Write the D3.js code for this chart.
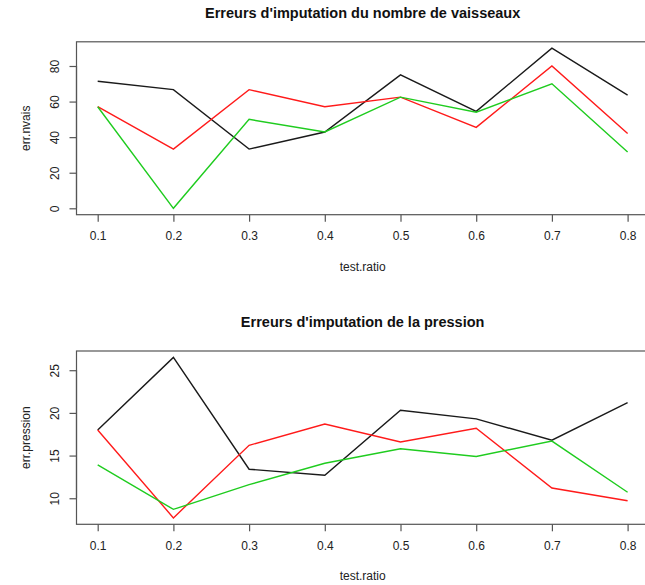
<!DOCTYPE html>
<html>
<head>
<meta charset="utf-8">
<script src="https://cdn.jsdelivr.net/npm/d3@7/dist/d3.min.js"></script>
<style>
  body { margin: 0; background: #fff; }
  svg text { font-family: "Liberation Sans", Arial, sans-serif; fill: #222; }
</style>
</head>
<body>
<div id="chart"></div>
<script>
var ratios = [0.1, 0.2, 0.3, 0.4, 0.5, 0.6, 0.7, 0.8];

// erreurs nombre de vaisseaux
var nvaisBlack = [71.4, 66.7, 33.3, 42.9, 75.0, 54.5, 90.0, 63.6];
var nvaisRed   = [57.1, 33.3, 66.7, 57.1, 62.5, 45.5, 80.0, 42.1];
var nvaisGreen = [57.1, 0.0, 50.0, 42.9, 62.5, 54.0, 70.0, 31.6];

// erreurs pression
var presBlack = [18.0, 26.5, 13.4, 12.7, 20.3, 19.3, 16.8, 21.2];
var presRed   = [18.0, 7.7, 16.2, 18.7, 16.6, 18.2, 11.2, 9.7];
var presGreen = [13.9, 8.7, 11.6, 14.1, 15.8, 14.9, 16.7, 10.7];

var xTicks = [0.1, 0.2, 0.3, 0.4, 0.5, 0.6, 0.7, 0.8];
var nvaisTicks = [0, 20, 40, 60, 80];
var presTicks = [10, 15, 20, 25];

var colors = ["#1a1a1a", "#ff1a1a", "#1fcc1f"];

var width = 645, height = 585;
var left = 76.5, right = 648.8;

var svg = d3.select("#chart").append("svg")
	.attr("width", width)
	.attr("height", height);

// R style: extend range by 4% each side
function rRange(ext) {
	var d = (ext[1] - ext[0]) * 0.04;
	return [ext[0] - d, ext[1] + d];
}

var x = d3.scaleLinear()
	.domain(rRange(d3.extent(ratios)))
	.range([left, right]);

function drawPanel(cfg) {
	var all = d3.merge(cfg.series);
	var y = d3.scaleLinear()
		.domain(rRange(d3.extent(all)))
		.range([cfg.bottom, cfg.top]);

	var g = svg.append("g");

	// title
	g.append("text")
		.attr("x", (left + right) / 2)
		.attr("y", cfg.titleY)
		.attr("text-anchor", "middle")
		.style("font-size", "14.5px")
		.style("font-weight", "bold")
		.style("fill", "#111")
		.text(cfg.title);

	// lines
	var line = d3.line()
		.x(function(d, i) { return x(ratios[i]); })
		.y(function(d) { return y(d); });

	cfg.series.forEach(function(s, i) {
		g.append("path")
			.datum(s)
			.attr("d", line)
			.attr("fill", "none")
			.attr("stroke", colors[i])
			.attr("stroke-width", 1.4)
			.attr("stroke-linejoin", "miter");
	});

	// box
	g.append("rect")
		.attr("x", left)
		.attr("y", cfg.top)
		.attr("width", right - left)
		.attr("height", cfg.bottom - cfg.top)
		.attr("fill", "none")
		.attr("stroke", "#555")
		.attr("stroke-width", 1.2);

	// x axis
	var xAxis = g.append("g")
		.attr("transform", "translate(0," + cfg.bottom + ")")
		.call(d3.axisBottom(x)
			.tickValues(xTicks)
			.tickSize(7)
			.tickPadding(10)
			.tickFormat(d3.format(".1f")));
	xAxis.select(".domain").remove();
	xAxis.selectAll("line").attr("stroke", "#555").attr("stroke-width", 1.2);
	xAxis.selectAll("text")
		.style("font-size", "12px")
		.style("fill", "#222")
		.attr("font-family", null);

	// y axis
	var yAxis = g.append("g")
		.attr("transform", "translate(" + left + ",0)")
		.call(d3.axisLeft(y)
			.tickValues(cfg.yTicks)
			.tickSize(7));
	yAxis.select(".domain").attr("stroke", "#555").attr("stroke-width", 1.2)
		.attr("d", "M0," + y(cfg.yTicks[0]) + "V" + y(cfg.yTicks[cfg.yTicks.length - 1]));
	yAxis.selectAll("line").attr("stroke", "#555").attr("stroke-width", 1.2);
	yAxis.selectAll("text")
		.attr("x", null)
		.attr("dy", null)
		.attr("text-anchor", "middle")
		.attr("transform", "translate(-18,0) rotate(-90)")
		.style("font-size", "12px")
		.style("fill", "#222")
		.attr("font-family", null);

	// axis titles
	g.append("text")
		.attr("x", (left + right) / 2)
		.attr("y", cfg.bottom + 56)
		.attr("text-anchor", "middle")
		.style("font-size", "12px")
		.text("test.ratio");

	g.append("text")
		.attr("transform", "translate(30," + (cfg.top + cfg.bottom) / 2 + ") rotate(-90)")
		.attr("text-anchor", "middle")
		.style("font-size", "12px")
		.text(cfg.yLabel);
}

drawPanel({
	title: "Erreurs d'imputation du nombre de vaisseaux",
	yLabel: "err.nvais",
	series: [nvaisBlack, nvaisRed, nvaisGreen],
	yTicks: nvaisTicks,
	top: 41.8,
	bottom: 214.7,
	titleY: 18
});

drawPanel({
	title: "Erreurs d'imputation de la pression",
	yLabel: "err.pression",
	series: [presBlack, presRed, presGreen],
	yTicks: presTicks,
	top: 351,
	bottom: 524.3,
	titleY: 327
});
</script>
</body>
</html>
